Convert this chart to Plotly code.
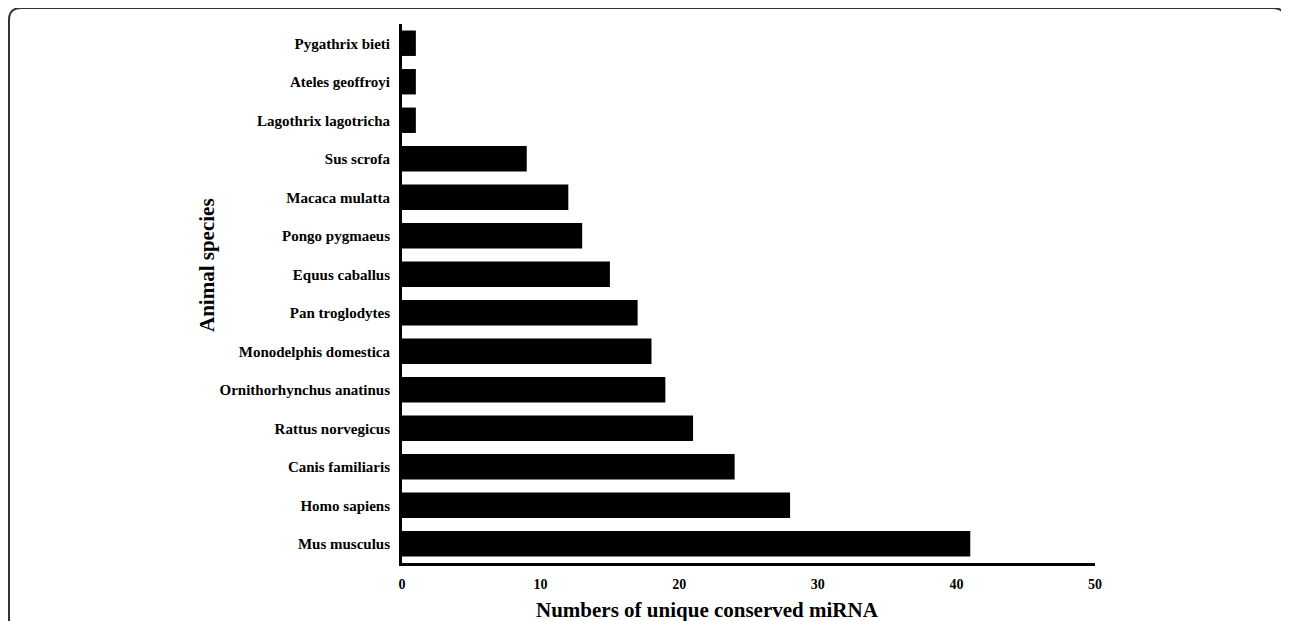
import plotly.graph_objects as go

species = ["Mus musculus", "Homo sapiens", "Canis familiaris", "Rattus norvegicus",
           "Ornithorhynchus anatinus", "Monodelphis domestica", "Pan troglodytes",
           "Equus caballus", "Pongo pygmaeus", "Macaca mulatta", "Sus scrofa",
           "Lagothrix lagotricha", "Ateles geoffroyi", "Pygathrix bieti"]
counts = [41, 28, 24, 21, 19, 18, 17, 15, 13, 12, 9, 1, 1, 1]
x_ticks = [0, 10, 20, 30, 40, 50]

OFF = 8  # page body margin
W, H = 1289 - OFF, 621 - OFF
PX0, PX1, PY0, PY1 = 402, 1095, 24, 563  # plot area in page pixels
L, T = PX0 - OFF, PY0 - OFF
pw, ph = PX1 - PX0, PY1 - PY0
R, B = W - L - pw, H - T - ph

def px2paper(x, y):
    return (x - PX0) / pw, (PY1 - y) / ph

FONT = "Liberation Serif, Times New Roman, serif"

fig = go.Figure(go.Bar(
    x=counts, y=species, orientation="h",
    marker=dict(color="black", line=dict(width=0)),
))

# rounded frame around the whole picture (page pixel coords)
x0, y0, x1, y1, r = 9, 8, 1285, 640, 12
def P(x, y):
    a, b = px2paper(x, y)
    return f"{a:.5f},{b:.5f}"
path = (f"M {P(x0, y1)} L {P(x0, y0 + r)} Q {P(x0, y0)} {P(x0 + r, y0)} "
        f"L {P(x1 - r, y0)} Q {P(x1, y0)} {P(x1, y0 + r)} L {P(x1, y1)}")
fig.add_shape(type="path", path=path, xref="paper", yref="paper",
              line=dict(color="#333333", width=2), layer="above")

fig.update_layout(
    width=W, height=H, autosize=False,
    margin=dict(l=L, r=R, t=T, b=B),
    plot_bgcolor="white", paper_bgcolor="white",
    bargap=0.34, showlegend=False,
    font=dict(family=FONT, color="black"),
    xaxis=dict(range=[0, 50], tickvals=x_ticks, showgrid=False, zeroline=False,
               showline=True, linecolor="black", linewidth=3, ticks="",
               tickfont=dict(family=FONT, size=14, color="black", weight="bold"),
               ticklabelstandoff=6, fixedrange=True),
    yaxis=dict(categoryorder="array", categoryarray=species, range=[-0.5, 13.5],
               showgrid=False, zeroline=False, showline=True, linecolor="black",
               linewidth=3, ticks="",
               tickfont=dict(family=FONT, size=15, color="black", weight="bold"),
               ticklabelstandoff=6, fixedrange=True),
    annotations=[
        dict(text="Numbers of unique conserved miRNA", xref="paper", yref="paper",
             x=px2paper(707, 0)[0], y=px2paper(0, 610)[1], showarrow=False,
             xanchor="center", yanchor="middle",
             font=dict(family=FONT, size=21, color="black", weight="bold")),
        dict(text="Animal species", xref="paper", yref="paper",
             x=px2paper(207, 0)[0], y=px2paper(0, 265)[1], showarrow=False,
             textangle=-90, xanchor="center", yanchor="middle",
             font=dict(family=FONT, size=21, color="black", weight="bold")),
    ],
)

fig.write_html("out.html")
